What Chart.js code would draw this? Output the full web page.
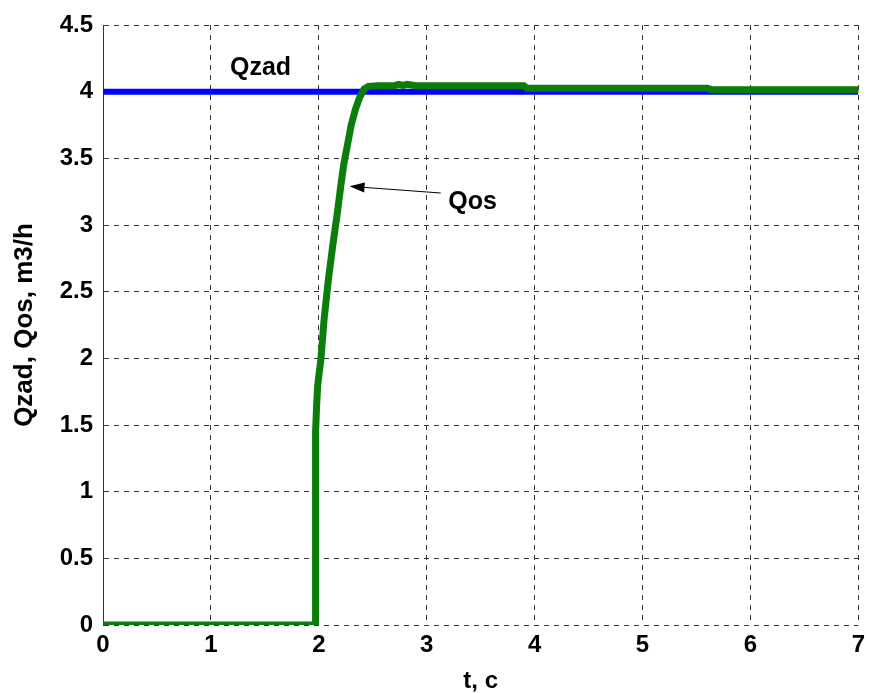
<!DOCTYPE html>
<html lang="en">
<head>
    <meta charset="UTF-8">
    <title>Qzad / Qos</title>
    <script src="https://cdn.jsdelivr.net/npm/chart.js"></script>
    <style>
        body { margin: 0; background: #fff; }
        #wrap { width: 871px; height: 693px; }
    </style>
</head>
<body>
    <div id="wrap"><canvas id="flowChart" width="871" height="693"></canvas></div>

    <script>
        // Setpoint flow (Qzad), constant
        const qzadT = [0, 7];
        const qzadV = [4, 4];

        // Measured flow (Qos) response
        const qosT = [0, 1.965, 1.97, 1.98, 1.99, 2.02, 2.05, 2.09, 2.13, 2.17, 2.2, 2.23, 2.27, 2.3, 2.34, 2.38, 2.42, 2.46, 2.55,
                      2.7, 2.74, 2.78, 2.82, 2.9, 3.9, 3.93, 5.6, 5.64, 7];
        const qosV = [0, 0, 1.45, 1.65, 1.8, 2.0, 2.3, 2.6, 2.85, 3.08, 3.27, 3.45, 3.62, 3.75, 3.87, 3.96, 4.02, 4.04, 4.045,
                      4.045, 4.055, 4.047, 4.055, 4.045, 4.045, 4.025, 4.025, 4.015, 4.015];

        // Axis ranges
        const xTicks = { min: 0, max: 7, step: 1 };
        const yTicks = { min: 0, max: 4.5, step: 0.5 };

        // Text labels placed in data coordinates
        const qzadLabel = { text: 'Qzad', x: 1.46, y: 4.18 };
        const qosLabel = { text: 'Qos', x: 3.2, y: 3.17 };
        const qosArrow = { fromX: 3.13, fromY: 3.24, toX: 2.285, toY: 3.29 };

        const toPoints = (xs, ys) => xs.map((x, i) => ({ x: x, y: ys[i] }));

        const FONT = '"Liberation Sans", Arial, sans-serif';

        // Draws the curve labels and the pointer arrow
        const labelsPlugin = {
            id: 'curveLabels',
            afterDatasetsDraw(chart) {
                const { ctx, scales: { x, y } } = chart;
                ctx.save();
                ctx.fillStyle = '#000';
                ctx.font = 'bold 25px ' + FONT;
                ctx.textBaseline = 'middle';
                ctx.textAlign = 'center';
                ctx.fillText(qzadLabel.text, x.getPixelForValue(qzadLabel.x), y.getPixelForValue(qzadLabel.y));
                ctx.textAlign = 'left';
                ctx.fillText(qosLabel.text, x.getPixelForValue(qosLabel.x), y.getPixelForValue(qosLabel.y));

                const x1 = x.getPixelForValue(qosArrow.fromX), y1 = y.getPixelForValue(qosArrow.fromY);
                const x2 = x.getPixelForValue(qosArrow.toX), y2 = y.getPixelForValue(qosArrow.toY);
                const ang = Math.atan2(y2 - y1, x2 - x1);
                const head = 15, half = 5;
                const bx = x2 - head * Math.cos(ang), by = y2 - head * Math.sin(ang);
                ctx.strokeStyle = '#000';
                ctx.lineWidth = 1;
                ctx.beginPath();
                ctx.moveTo(x1, y1);
                ctx.lineTo(bx, by);
                ctx.stroke();
                ctx.beginPath();
                ctx.moveTo(x2, y2);
                ctx.lineTo(bx - half * Math.sin(ang), by + half * Math.cos(ang));
                ctx.lineTo(bx + half * Math.sin(ang), by - half * Math.cos(ang));
                ctx.closePath();
                ctx.fill();
                ctx.restore();
            }
        };

        new Chart(document.getElementById('flowChart'), {
            type: 'line',
            data: {
                datasets: [
                    {
                        label: 'Qos',
                        data: toPoints(qosT, qosV),
                        borderColor: '#0a7d0a',
                        borderWidth: 7,
                        pointRadius: 0,
                        tension: 0,
                        order: 1
                    },
                    {
                        label: 'Qzad',
                        data: toPoints(qzadT, qzadV),
                        borderColor: '#0000ff',
                        borderWidth: 6,
                        pointRadius: 0,
                        tension: 0,
                        order: 2
                    }
                ]
            },
            options: {
                responsive: false,
                animation: false,
                events: [],
                layout: { padding: { top: 25, right: 8, left: 0, bottom: 0 } },
                plugins: {
                    legend: { display: false },
                    tooltip: { enabled: false }
                },
                scales: {
                    x: {
                        type: 'linear',
                        min: xTicks.min,
                        max: xTicks.max,
                        afterFit(scale) { scale.height = 68; },
                        ticks: {
                            stepSize: xTicks.step,
                            color: '#000',
                            padding: 6,
                            maxRotation: 0,
                            font: { family: FONT, size: 24, weight: 'bold' }
                        },
                        grid: { color: '#333', lineWidth: 1, drawTicks: false },
                        border: { display: false, dash: [5, 5] },
                        title: {
                            display: true,
                            text: 't, c',
                            color: '#000',
                            padding: 0,
                            font: { family: FONT, size: 24, weight: 'bold', lineHeight: 1 }
                        }
                    },
                    y: {
                        type: 'linear',
                        min: yTicks.min,
                        max: yTicks.max,
                        afterFit(scale) { scale.width = 103; },
                        ticks: {
                            stepSize: yTicks.step,
                            color: '#000',
                            padding: 10,
                            font: { family: FONT, size: 24, weight: 'bold' },
                            callback: (v) => String(Number(v.toFixed(1)))
                        },
                        grid: { color: '#333', lineWidth: 1, drawTicks: false },
                        border: { display: true, color: '#333', width: 1, dash: [5, 5] },
                        title: {
                            display: true,
                            text: 'Qzad, Qos, m3/h',
                            color: '#000',
                            padding: { top: 9, bottom: 0 },
                            font: { family: FONT, size: 26, weight: 'bold', lineHeight: 1.2 }
                        }
                    }
                }
            },
            plugins: [labelsPlugin]
        });
    </script>
</body>
</html>
